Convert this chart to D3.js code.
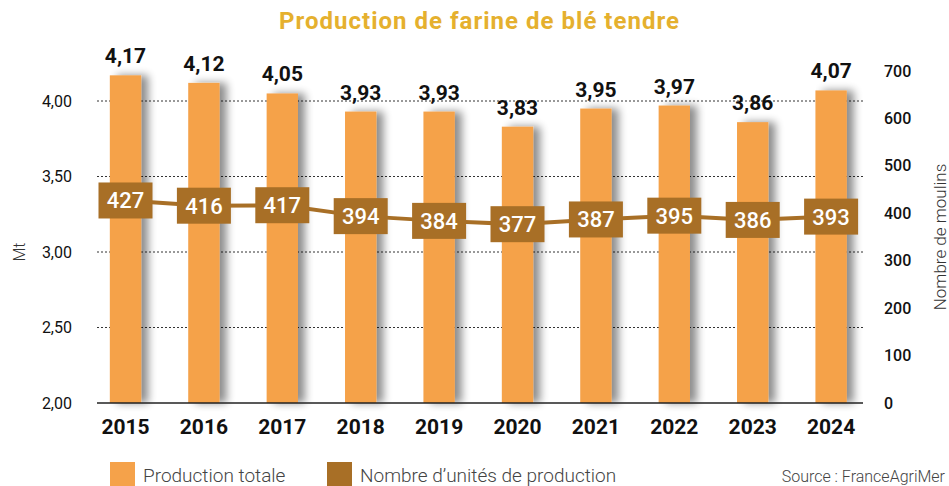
<!DOCTYPE html>
<html>
<head>
<meta charset="utf-8">
<script src="https://cdn.jsdelivr.net/npm/d3@7"></script>
<style>
  body { margin: 0; background: #fff; }
  svg { display: block; font-family: "Roboto", "Liberation Sans", sans-serif; }
</style>
</head>
<body>
<div id="chart"></div>
<script>
/* --- données --- */
const years = ["2015", "2016", "2017", "2018", "2019", "2020", "2021", "2022", "2023", "2024"];
const production = [4.17, 4.12, 4.05, 3.93, 3.93, 3.83, 3.95, 3.97, 3.86, 4.07];
const moulins = [427, 416, 417, 394, 384, 377, 387, 395, 386, 393];
const leftTicks = [2.0, 2.5, 3.0, 3.5, 4.0];
const rightTicks = [0, 100, 200, 300, 400, 500, 600, 700];

const W = 949, H = 486;
const orange = "#f5a24a", brown = "#a86f26", gold = "#e5b02e";
const fr = d3.formatLocale({ decimal: ",", thousands: " ", grouping: [3], currency: ["", "€"] });
const f2 = fr.format(".2f");

const svg = d3.select("#chart").append("svg").attr("width", W).attr("height", H);

// ombre des barres
const defs = svg.append("defs");
const filt = defs.append("filter").attr("id", "shadow")
  .attr("x", "-20%").attr("y", "-5%").attr("width", "180%").attr("height", "110%");
filt.append("feGaussianBlur").attr("in", "SourceAlpha").attr("stdDeviation", 4).attr("result", "blur");
filt.append("feOffset").attr("in", "blur").attr("dx", 7).attr("dy", 0).attr("result", "off");
filt.append("feComponentTransfer").attr("in", "off").attr("result", "sh")
  .append("feFuncA").attr("type", "linear").attr("slope", 0.45);
const merge = filt.append("feMerge");
merge.append("feMergeNode").attr("in", "sh");
merge.append("feMergeNode").attr("in", "SourceGraphic");

/* --- échelles --- */
const x = d3.scaleBand().domain(years).range([86.3, 870.3]).paddingInner(0.6).paddingOuter(0.3);
const yL = d3.scaleLinear().domain([2, 4]).range([403, 101]);
const yR = d3.scaleLinear().domain([0, 700]).range([403, 71]);
const cx = d => x(d) + x.bandwidth() / 2;

// titre
svg.append("text").attr("x", 479).attr("y", 29).attr("text-anchor", "middle")
  .attr("font-size", 24).attr("font-weight", 700).attr("fill", gold)
  .attr("textLength", 400).attr("lengthAdjust", "spacing")
  .text("Production de farine de blé tendre");

// grille
svg.append("g").selectAll("line").data(leftTicks.filter(d => d > 2)).enter().append("line")
  .attr("x1", 97).attr("x2", 863).attr("y1", d => yL(d)).attr("y2", d => yL(d))
  .attr("stroke", "#333").attr("stroke-width", 1).attr("stroke-dasharray", "2,2");

// barres
svg.append("g").selectAll("rect").data(years).enter().append("rect")
  .attr("x", d => x(d)).attr("width", x.bandwidth())
  .attr("y", (d, i) => yL(production[i]))
  .attr("height", (d, i) => yL(2) - yL(production[i]))
  .attr("fill", orange).attr("filter", "url(#shadow)");

// ligne de base
svg.append("line").attr("x1", 97).attr("x2", 863).attr("y1", 403).attr("y2", 403)
  .attr("stroke", "#222").attr("stroke-width", 1.5);

// valeurs des barres
svg.append("g").selectAll("text").data(years).enter().append("text")
  .attr("x", d => cx(d)).attr("y", (d, i) => yL(production[i]) - 12)
  .attr("text-anchor", "middle").attr("font-size", 21).attr("font-weight", 700).attr("fill", "#111")
  .text((d, i) => f2(production[i]));

// axe gauche
svg.append("g").selectAll("text").data(leftTicks).enter().append("text")
  .attr("x", 72).attr("y", d => yL(d)).attr("dy", "0.35em").attr("text-anchor", "end")
  .attr("font-size", 16).attr("fill", "#111").text(d => f2(d));
svg.append("text").attr("transform", "translate(25,252) rotate(-90)")
  .attr("text-anchor", "middle").attr("font-size", 16).attr("font-weight", 300).attr("fill", "#333").text("Mt");

// axe droit
svg.append("g").selectAll("text").data(rightTicks).enter().append("text")
  .attr("x", 884).attr("y", d => yR(d)).attr("dy", "0.35em").attr("text-anchor", "start")
  .attr("font-size", 16).attr("font-weight", 500).attr("fill", "#111").text(d => d);
svg.append("text").attr("transform", "translate(946,237) rotate(-90)")
  .attr("text-anchor", "middle").attr("font-size", 17).attr("font-weight", 300).attr("fill", "#333")
  .text("Nombre de moulins");

// années
svg.append("g").selectAll("text").data(years).enter().append("text")
  .attr("x", d => cx(d)).attr("y", 434).attr("text-anchor", "middle")
  .attr("font-size", 21).attr("font-weight", 700).attr("fill", "#111").text(d => d);

// ligne des moulins
const line = d3.line().x((d, i) => cx(years[i])).y(d => yR(d));
svg.append("path").datum(moulins).attr("d", line)
  .attr("fill", "none").attr("stroke", brown).attr("stroke-width", 4);

const boxes = svg.append("g").selectAll("g").data(moulins).enter().append("g")
  .attr("transform", (d, i) => `translate(${cx(years[i])},${yR(d)})`);
boxes.append("rect").attr("x", -27).attr("y", -18).attr("width", 54).attr("height", 36).attr("fill", brown);
boxes.append("text").attr("y", 0).attr("dy", "0.36em").attr("text-anchor", "middle")
  .attr("font-size", 22).attr("font-weight", 500).attr("fill", "#fff").text(d => d);

// légende
const legend = [
  { label: "Production totale", color: orange, x: 110 },
  { label: "Nombre d’unités de production", color: brown, x: 327 }
];
const lg = svg.append("g").selectAll("g").data(legend).enter().append("g");
lg.append("rect").attr("x", d => d.x).attr("y", 462).attr("width", 25).attr("height", 24).attr("fill", d => d.color);
lg.append("text").attr("x", d => d.x + 33).attr("y", 482).attr("font-size", 19).attr("font-weight", 300)
  .attr("fill", "#444").text(d => d.label);

svg.append("text").attr("x", 945).attr("y", 482).attr("text-anchor", "end")
  .attr("font-size", 16).attr("font-weight", 300).attr("fill", "#444").text("Source : FranceAgriMer");
</script>
</body>
</html>
